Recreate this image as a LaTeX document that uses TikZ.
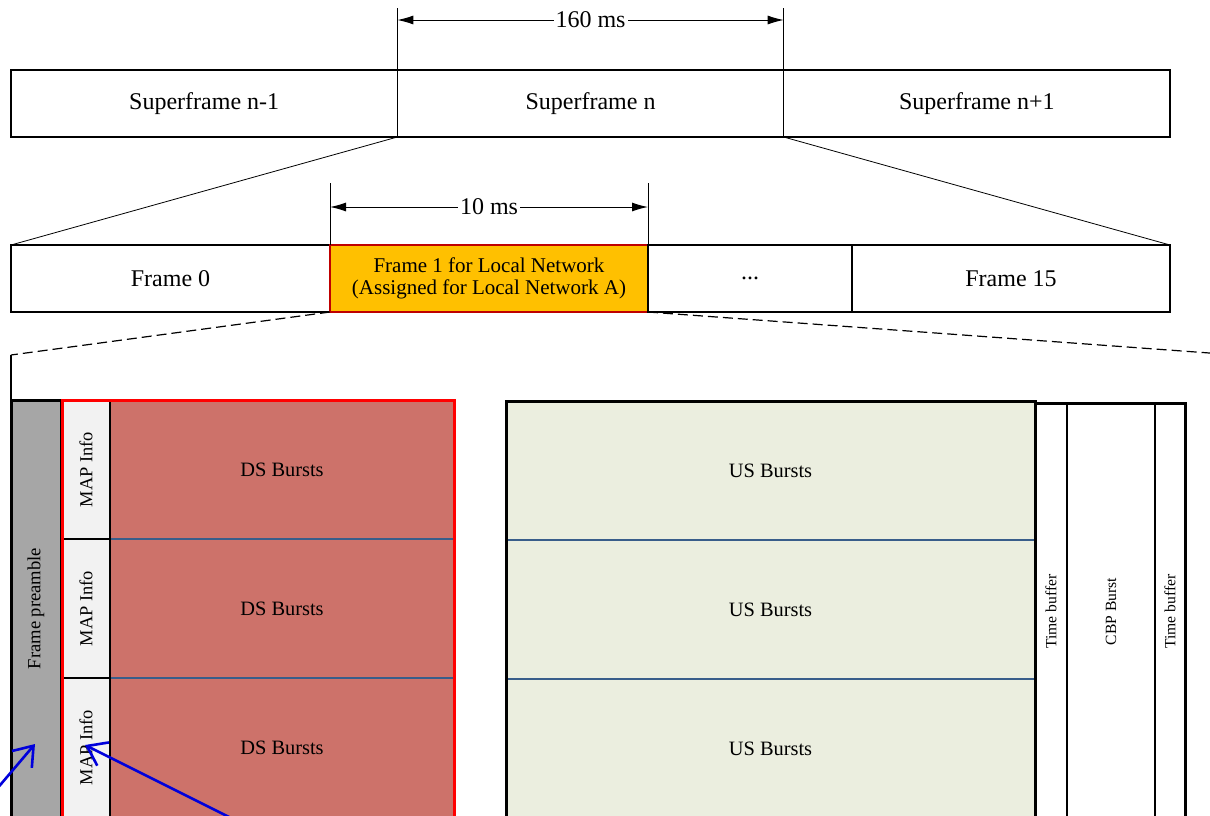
\documentclass[tikz,border=0pt]{standalone}
\usepackage{fontspec}
\setmainfont{Liberation Serif}
\usetikzlibrary{positioning,arrows.meta,calc,fit}

\definecolor{frameorange}{RGB}{255,192,0}
\definecolor{dsred}{RGB}{205,114,106}
\definecolor{usgreen}{RGB}{235,238,223}
\definecolor{mapgray}{RGB}{242,242,242}
\definecolor{pregray}{RGB}{166,166,166}
\definecolor{sepblue}{RGB}{56,93,138}
\definecolor{markblue}{RGB}{0,0,220}

\tikzset{
  box/.style={draw, inner sep=0pt, outer sep=0pt, line width=0.6pt},
  sfbox/.style={box, minimum width=193.17pt, minimum height=33.5pt, font=\fontsize{12}{14}\selectfont},
  frbox/.style={box, minimum height=33.5pt, font=\fontsize{12}{14}\selectfont},
  dimline/.style={{Latex[length=8pt,width=4.5pt]}-{Latex[length=8pt,width=4.5pt]}, line width=0.5pt},
  dimlabel/.style={fill=white, inner sep=1pt, font=\fontsize{12}{14}\selectfont},
  vbox/.style={inner sep=0pt, outer sep=0pt, rotate=90, minimum width=69.5pt},
  mapbox/.style={vbox, draw, fill=mapgray, line width=1.2pt, minimum height=24pt, font=\fontsize{9.2}{11}\selectfont},
  dsbox/.style={inner sep=0pt, outer sep=0pt, fill=dsred, minimum width=172pt, minimum height=69.5pt, font=\fontsize{10.2}{12}\selectfont},
  usbox/.style={inner sep=0pt, outer sep=0pt, fill=usgreen, minimum width=264.5pt, minimum height=69.5pt, font=\fontsize{10.2}{12}\selectfont},
  bufbox/.style={box, rotate=90, minimum width=208.5pt, font=\fontsize{7.8}{9}\selectfont},
  sepline/.style={sepblue, line width=0.6pt},
  zoomline/.style={line width=0.6pt, dash pattern=on 5pt off 2.5pt},
  thickframe/.style={draw, inner sep=0pt, line width=1.5pt},
  pointer/.style={markblue, line width=1.3pt, -{Straight Barb[length=9pt,width=13pt]}}
}

\begin{document}
\begin{tikzpicture}[x=0.5pt, y=-0.5pt]
  \useasboundingbox (0,0) rectangle (1210,815);
  \clip (0,0) rectangle (1210,815);

  % superframes
  \node[sfbox, anchor=north west] (sf0) at (11,70) {Superframe n-1};
  \node[sfbox, right=0pt of sf0] (sf1) {Superframe n};
  \node[sfbox, right=0pt of sf1] (sf2) {Superframe n+1};

  \draw[line width=0.5pt] (sf1.north west) -- ++(0,-62) coordinate (d160a);
  \draw[line width=0.5pt] (sf1.north east) -- ++(0,-62) coordinate (d160b);
  \draw[dimline] ($(d160a)+(0,12)$) -- node[dimlabel] {160 ms} ($(d160b)+(0,12)$);

  % frames
  \node[frbox, anchor=north west, minimum width=159.5pt] (fr0) at (11,245) {Frame 0};
  \node[frbox, right=0pt of fr0, minimum width=159pt, fill=frameorange, draw=red!75!black,
        align=center, font=\fontsize{10.5}{11}\selectfont] (fr1)
    {Frame 1 for Local Network\\(Assigned for Local Network A)};
  \node[frbox, right=0pt of fr1, minimum width=102pt] (fr2) {...};
  \node[frbox, right=0pt of fr2, minimum width=159pt] (fr3) {Frame 15};

  \draw (sf1.south west) -- (fr0.north west);
  \draw (sf1.south east) -- (fr3.north east);

  \draw[line width=0.5pt] (fr1.north west) -- ++(0,-62) coordinate (d10a);
  \draw[line width=0.5pt] (fr1.north east) -- ++(0,-62) coordinate (d10b);
  \draw[dimline] ($(d10a)+(0,24)$) -- node[dimlabel] {10 ms} ($(d10b)+(0,24)$);

  % frame content
  \node[bufbox, fill=pregray, draw=black, line width=1.5pt, minimum height=25pt,
        font=\fontsize{9.3}{11}\selectfont] (pre) at (36,608.5) {Frame preamble};

  \node[dsbox] (ds1) at (282,469.5) {DS Bursts};
  \node[dsbox] (ds2) at (282,608.5) {DS Bursts};
  \node[dsbox] (ds3) at (282,747.5) {DS Bursts};
  \draw[sepline] (ds1.south west) -- (ds1.south east);
  \draw[sepline] (ds2.south west) -- (ds2.south east);

  \node[mapbox] (map1) at (86,469.5) {MAP Info};
  \node[mapbox] (map2) at (86,608.5) {MAP Info};
  \node[mapbox] (map3) at (86,747.5) {MAP Info};
  \node[thickframe, draw=red, fit=(map1)(ds3)] (dsframe) {};

  \node[usbox] (us1) at (770.5,470.5) {US Bursts};
  \node[usbox] (us2) at (770.5,609.5) {US Bursts};
  \node[usbox] (us3) at (770.5,748.5) {US Bursts};
  \draw[sepline] (us1.south west) -- (us1.south east);
  \draw[sepline] (us2.south west) -- (us2.south east);
  \node[thickframe, fit=(us1)(us3)] (usframe) {};

  \node[bufbox, minimum height=16pt] (tb1) at (1051,611.5) {Time buffer};
  \node[bufbox, minimum height=44pt] (cbp) at (1111,611.5) {CBP Burst};
  \node[bufbox, minimum height=15pt] (tb2) at (1170,611.5) {Time buffer};
  \node[thickframe, fit=(tb1)(tb2)] (bufframe) {};

  % zoom lines
  \coordinate (bendL) at (11,355);
  \coordinate (bendR) at (1230,354.5);
  \draw[zoomline] (fr1.south west) -- (bendL);
  \draw[line width=0.6pt] (bendL) -- (pre.north east);
  \draw[zoomline] (fr1.south east) -- (bendR);

  % pointers
  \coordinate (preTail) at (-10,797);
  \coordinate (preTip) at (35,744);
  \coordinate (mapTail) at (245,825);
  \coordinate (mapTip) at (85,745);
  \draw[pointer] (preTail) -- (preTip);
  \draw[pointer] (mapTail) -- (mapTip);
\end{tikzpicture}
\end{document}
